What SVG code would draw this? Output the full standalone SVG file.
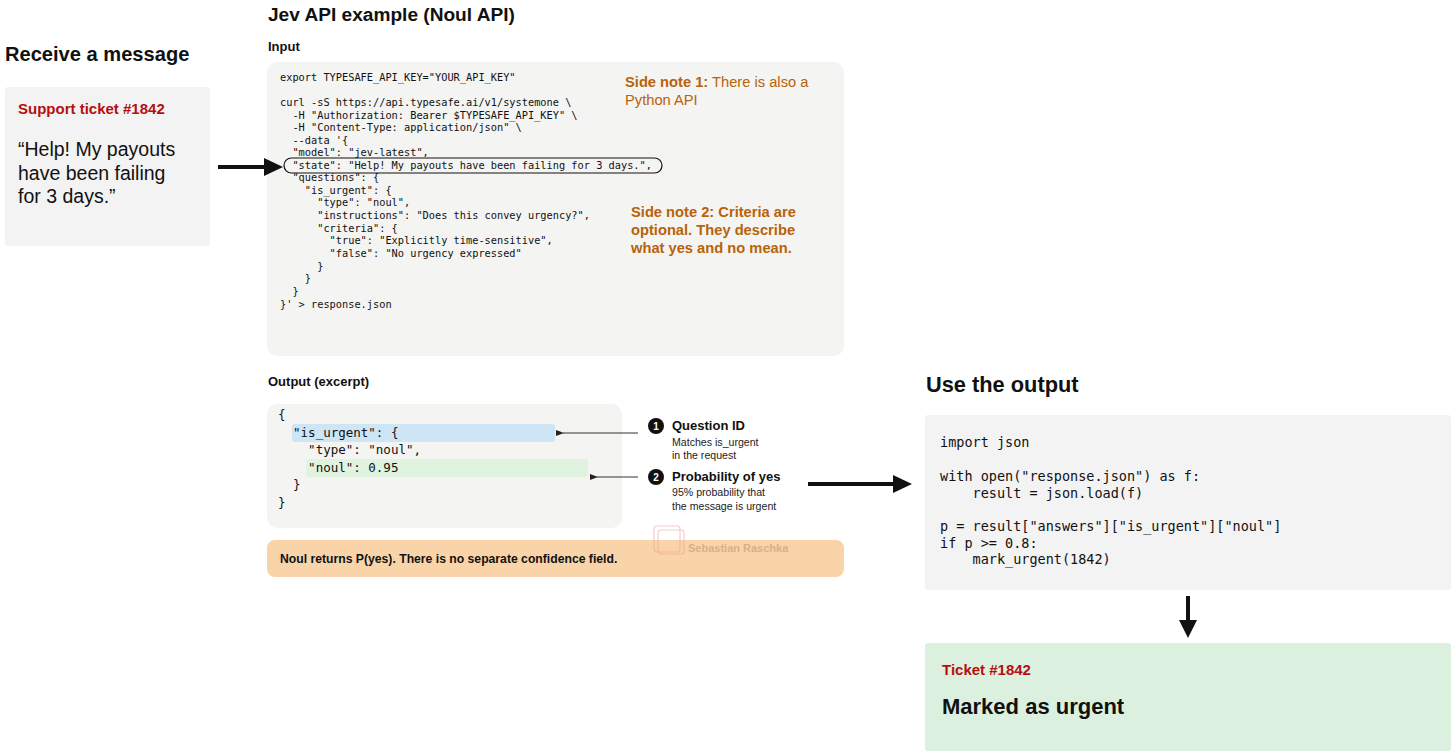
<svg xmlns="http://www.w3.org/2000/svg" width="1456" height="756" viewBox="0 0 1456 756">
<style>
text{font-family:"Liberation Sans",Arial,sans-serif;}
.h1{font-size:20px;font-weight:bold;fill:#111;}
.h2{font-size:13px;font-weight:bold;fill:#111;}
.code text{font-family:"DejaVu Sans Mono",monospace;fill:#111;white-space:pre;}
.note{font-size:14.7px;fill:#b8620b;}
.red{fill:#b51010;font-weight:bold;font-size:15px;}
.small{font-size:10.6px;fill:#222;}
.lbl{font-size:13px;font-weight:bold;fill:#111;}
</style>
<defs>
<marker id="thin" markerWidth="8" markerHeight="6" refX="1" refY="3" orient="auto" markerUnits="userSpaceOnUse">
<path d="M8,0 L0,3 L8,6 Z" fill="#222"/>
</marker>
</defs>
<rect width="1456" height="756" fill="#fff"/>

<g id="headers">
<text x="268" y="21" class="h1" style="font-size:19.1px">Jev API example (Noul API)</text>
<text x="268" y="51" class="h2">Input</text>
<text x="5" y="61" class="h1" style="font-size:20.1px">Receive a message</text>
<text x="268" y="386" class="h2">Output (excerpt)</text>
<text x="926" y="392" class="h1" style="font-size:21.8px">Use the output</text>
</g>

<g id="ticket">
<rect x="5" y="87" width="205" height="159" rx="3" fill="#f3f3f3"/>
<text x="18" y="114" class="red">Support ticket #1842</text>
<text x="18" y="156" style="font-size:19.5px;fill:#111">“Help! My payouts</text>
<text x="18" y="180" style="font-size:19.5px;fill:#111">have been failing</text>
<text x="18" y="203" style="font-size:19.5px;fill:#111">for 3 days.”</text>
</g>

<g id="input">
<rect x="267" y="62" width="577" height="294" rx="10" fill="#f4f4f2"/>
<g class="code" style="font-size:10.3px">
<text x="280" y="81">export TYPESAFE_API_KEY="YOUR_API_KEY"</text>
<text x="280" y="106">curl -sS https://api.typesafe.ai/v1/systemone \</text>
<text x="280" y="119">  -H "Authorization: Bearer $TYPESAFE_API_KEY" \</text>
<text x="280" y="131">  -H "Content-Type: application/json" \</text>
<text x="280" y="144">  --data '{</text>
<text x="280" y="156">  "model": "jev-latest",</text>
<text x="280" y="169">  "state": "Help! My payouts have been failing for 3 days.",</text>
<text x="280" y="181">  "questions": {</text>
<text x="280" y="194">    "is_urgent": {</text>
<text x="280" y="206">      "type": "noul",</text>
<text x="280" y="219">      "instructions": "Does this convey urgency?",</text>
<text x="280" y="232">      "criteria": {</text>
<text x="280" y="244">        "true": "Explicitly time-sensitive",</text>
<text x="280" y="257">        "false": "No urgency expressed"</text>
<text x="280" y="270">      }</text>
<text x="280" y="282">    }</text>
<text x="280" y="295">  }</text>
<text x="280" y="308">}' &gt; response.json</text>
</g>
<rect x="284" y="158" width="378" height="15" rx="7.5" fill="none" stroke="#111" stroke-width="1.2"/>
<text x="625" y="87" class="note"><tspan font-weight="bold">Side note 1:</tspan> There is also a</text>
<text x="625" y="105" class="note">Python API</text>
<text x="631" y="217" class="note" font-weight="bold">Side note 2: Criteria are</text>
<text x="631" y="235" class="note" font-weight="bold">optional. They describe</text>
<text x="631" y="253" class="note" font-weight="bold">what yes and no mean.</text>
</g>

<g id="output">
<rect x="267" y="404" width="355" height="124" rx="10" fill="#f4f4f2"/>
<rect x="292" y="424" width="263" height="18" rx="3" fill="#cde5f4"/>
<rect x="306" y="459" width="282" height="18" rx="3" fill="#dff3e0"/>
<g class="code" style="font-size:12.5px">
<text x="278" y="419">{</text>
<text x="278" y="437">  "is_urgent": {</text>
<text x="278" y="454">    "type": "noul",</text>
<text x="278" y="472">    "noul": 0.95</text>
<text x="278" y="489">  }</text>
<text x="278" y="507">}</text>
</g>
</g>

<g id="callout1">
<circle cx="656" cy="426" r="8" fill="#111"/>
<text x="656" y="430" text-anchor="middle" style="font-size:10px;font-weight:bold;fill:#fff">1</text>
<text x="672" y="430" class="lbl">Question ID</text>
<text x="672" y="446" class="small">Matches is_urgent</text>
<text x="672" y="459" class="small">in the request</text>
</g>
<g id="callout2">
<circle cx="656" cy="477" r="8" fill="#111"/>
<text x="656" y="481" text-anchor="middle" style="font-size:10px;font-weight:bold;fill:#fff">2</text>
<text x="672" y="481" class="lbl">Probability of yes</text>
<text x="672" y="496" class="small">95% probability that</text>
<text x="672" y="510" class="small">the message is urgent</text>
</g>

<g id="summary">
<rect x="267" y="540" width="577" height="37" rx="8" fill="#f9d4a9"/>
<text x="280" y="563" style="font-size:12.2px;font-weight:bold;fill:#111">Noul returns P(yes). There is no separate confidence field.</text>
</g>

<g id="watermark" opacity="0.55">
<rect x="654" y="526" width="26" height="26" rx="3" fill="none" stroke="#f0a0a0" stroke-width="1.2"/>
<rect x="658" y="530" width="26" height="24" rx="3" fill="none" stroke="#f0a0a0" stroke-width="1.2"/>
<text x="688" y="552" style="font-size:11px;font-weight:bold;fill:#c09070">Sebastian Raschka</text>
</g>

<g id="usecode">
<rect x="925" y="415" width="526" height="175" rx="3" fill="#f3f3f3"/>
<g class="code" style="font-size:13.5px">
<text x="940" y="447">import json</text>
<text x="940" y="481">with open("response.json") as f:</text>
<text x="940" y="498">    result = json.load(f)</text>
<text x="940" y="531">p = result["answers"]["is_urgent"]["noul"]</text>
<text x="940" y="548">if p &gt;= 0.8:</text>
<text x="940" y="564">    mark_urgent(1842)</text>
</g>
</g>

<g id="result">
<rect x="925" y="643" width="526" height="108" rx="3" fill="#dcf0df"/>
<text x="942" y="675" class="red">Ticket #1842</text>
<text x="942" y="714" style="font-size:22px;font-weight:bold;fill:#111">Marked as urgent</text>
</g>

<g id="connectors">
<line x1="218" y1="167" x2="266" y2="167" stroke="#111" stroke-width="4"/>
<path d="M264,158 L283,167 L264,176 Z" fill="#111"/>
<line x1="638" y1="433" x2="563" y2="433" stroke="#333" stroke-width="1" marker-end="url(#thin)"/>
<line x1="638" y1="477" x2="597" y2="477" stroke="#333" stroke-width="1" marker-end="url(#thin)"/>
<line x1="808" y1="484" x2="895" y2="484" stroke="#111" stroke-width="4"/>
<path d="M893,475 L912,484 L893,493 Z" fill="#111"/>
<line x1="1188" y1="596" x2="1188" y2="622" stroke="#111" stroke-width="4"/>
<path d="M1179,620 L1188,638 L1197,620 Z" fill="#111"/>
</g>
</svg>
